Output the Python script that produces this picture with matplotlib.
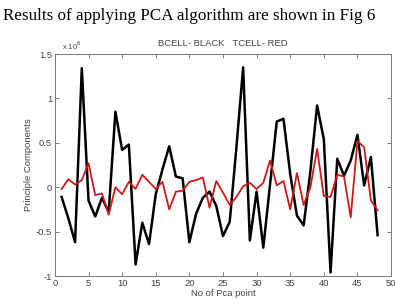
import numpy as np
import matplotlib
matplotlib.use("Agg")
import matplotlib.pyplot as plt

# Points 1..48, values in units of 1e6
pca_point = list(range(1, 49))
bcell = [-0.11, -0.35, -0.62, 1.34, -0.15, -0.33, -0.12, -0.28, 0.85, 0.42,
         0.48, -0.87, -0.40, -0.64, -0.08, 0.20, 0.46, 0.12, 0.10, -0.62,
         -0.30, -0.12, -0.05, -0.21, -0.55, -0.39, 0.45, 1.35, -0.60, -0.05,
         -0.68, 0.03, 0.74, 0.77, 0.15, -0.32, -0.43, 0.18, 0.92, 0.54,
         -0.96, 0.32, 0.13, 0.30, 0.59, 0.02, 0.34, -0.54]
tcell = [-0.02, 0.09, 0.03, 0.08, 0.27, -0.09, -0.07, -0.31, 0.00, -0.08,
         0.06, -0.02, 0.14, 0.06, -0.02, 0.06, -0.25, -0.05, -0.04, 0.06,
         0.08, 0.11, -0.23, 0.07, -0.06, -0.20, -0.11, 0.01, 0.05, -0.02,
         0.05, 0.30, 0.02, 0.07, -0.25, 0.16, -0.20, 0.00, 0.43, -0.10,
         -0.11, 0.14, 0.12, -0.34, 0.52, 0.45, -0.15, -0.26]

xticks = list(range(0, 51, 5))
yticks = [-1, -0.5, 0, 0.5, 1, 1.5]
ytick_labels = ["-1", "-0.5", "0", "0.5", "1", "1.5"]

plt.rcParams['font.family'] = ['Liberation Sans', 'DejaVu Sans']

fig = plt.figure(figsize=(3.95, 3.0), dpi=100)
ax = fig.add_axes([0.139, 0.08, 0.851, 0.74])

ax.plot(pca_point, bcell, color='black', lw=1.8)
ax.plot(pca_point, tcell, color='#d01818', lw=1.3)

ax.set_xlim(0, 50)
ax.set_ylim(-1, 1.5)
ax.set_xticks(xticks)
ax.set_yticks(yticks)
ax.set_yticklabels(ytick_labels)
ax.tick_params(direction='in', top=True, right=True, length=3, width=0.6,
               labelsize=6.8, labelcolor='#444444', color='#666666', pad=2)
for s in ax.spines.values():
    s.set_linewidth(0.7)
    s.set_color('#777777')

ax.set_title("BCELL- BLACK   TCELL- RED", fontsize=6.8, color='#444444', pad=6)
ax.set_xlabel("No of Pca point", fontsize=6.8, color='#444444', labelpad=1)
ax.set_ylabel("Principle Components", fontsize=6.8, color='#444444', labelpad=2)
ax.text(0.02, 1.01, r"x 10$^6$", transform=ax.transAxes, fontsize=5.5,
        color='#444444', va='bottom')

fig.text(3 / 395, 1 - 20 / 300, "Results of applying PCA algorithm are shown in Fig 6",
         ha='left', va='baseline', fontsize=12.3, family='Liberation Serif')

fig.savefig("out.png", dpi=100)
